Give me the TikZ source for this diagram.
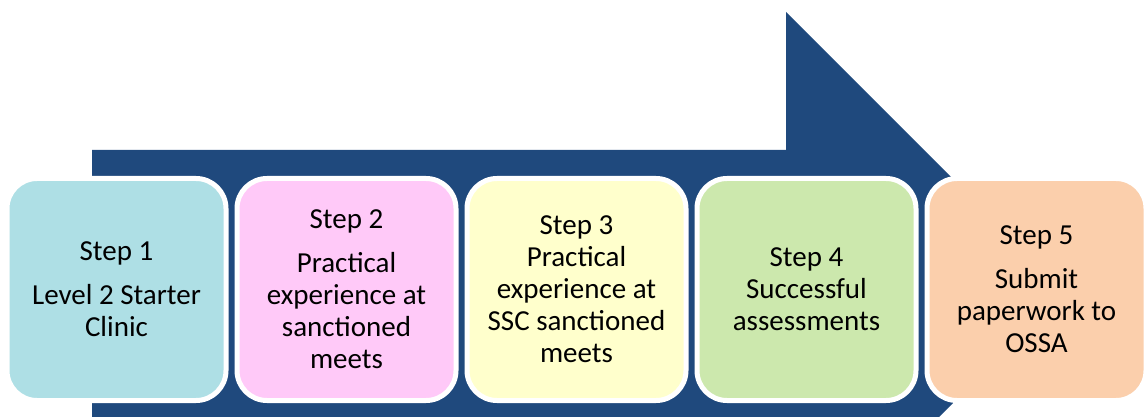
\documentclass[tikz,border=0pt]{standalone}
\usepackage{fontspec}
\setmainfont{Carlito}
\usetikzlibrary{positioning}
\definecolor{arrowblue}{HTML}{1F497D}
\definecolor{stepcyan}{HTML}{AEDFE5}
\definecolor{steppink}{HTML}{FFC9F8}
\definecolor{stepyellow}{HTML}{FFFFCC}
\definecolor{stepgreen}{HTML}{CCE8AD}
\definecolor{steporange}{HTML}{FBCFAC}
\tikzset{stepbox/.style={draw=white, line width=5pt, rounded corners=30pt, minimum width=219pt, minimum height=222pt, inner sep=0pt, align=center, font=\fontsize{29}{32}\selectfont}}

\begin{document}
\begin{tikzpicture}[x=1pt, y=-1pt]
    \useasboundingbox (0,0) rectangle (1144,417);
    \clip (0,0) rectangle (1144,417);
    % Big arrow behind the steps
    \fill [arrowblue] (92,150) -- (786,150) -- (786,12) -- (1065,291) -- (786,570) -- (786,432) -- (92,432) -- cycle;
    % Steps
    \node (step1) [stepbox, fill=stepcyan] at (116.5,289.5) {Step 1\\[12pt]Level 2 Starter\\Clinic};
    \node (step2) [stepbox, fill=steppink, right=6pt of step1] {Step 2\\[12pt]Practical\\experience at\\sanctioned\\meets};
    \node (step3) [stepbox, fill=stepyellow, right=6pt of step2] {Step 3\\Practical\\experience at\\SSC sanctioned\\meets};
    \node (step4) [stepbox, fill=stepgreen, right=6pt of step3] {Step 4\\Successful\\assessments};
    \node (step5) [stepbox, fill=steporange, right=6pt of step4] {Step 5\\[12pt]Submit\\paperwork to\\OSSA};
\end{tikzpicture}
\end{document}
